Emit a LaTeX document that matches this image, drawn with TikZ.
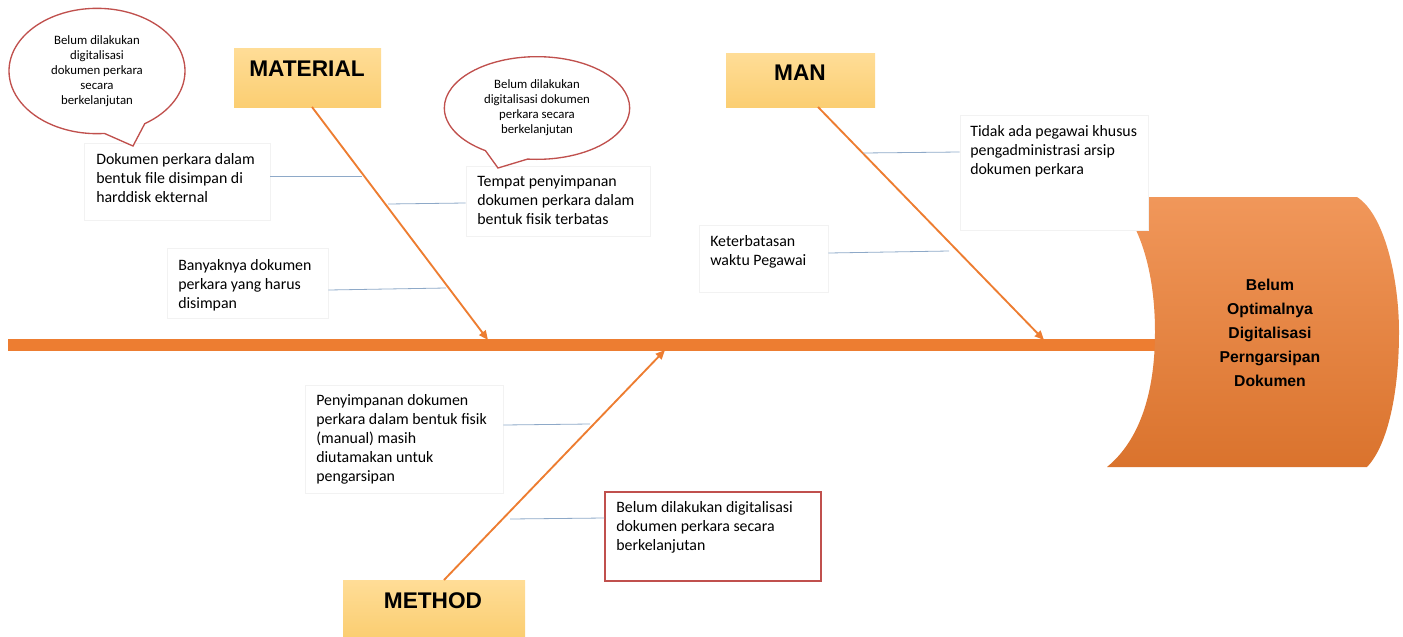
\documentclass[tikz,border=0pt]{standalone}
\usepackage{fontspec}
\setmainfont{Carlito}
\newfontfamily\headfont{Liberation Sans}
\usetikzlibrary{shapes.callouts,fit,arrows.meta,calc}
\definecolor{orng}{HTML}{ED7D31}
\definecolor{bubred}{HTML}{C0504D}
\definecolor{branch}{HTML}{8EA9C8}
\definecolor{boxedge}{HTML}{F2F2F2}
\definecolor{hdtop}{HTML}{FFDD97}
\definecolor{hdbot}{HTML}{FBCE72}
\begin{document}
\begin{tikzpicture}[x=0.75pt,y=-0.75pt,
  txt/.style={anchor=north west,inner sep=0pt,align=left,font=\fontsize{11.9}{14.25}\selectfont},
  tbox/.style={draw=boxedge,fill=white,inner sep=0pt,line width=0.6pt},
  redbox/.style={draw=bubred,fill=white,inner sep=0pt,line width=1pt},
  hdbox/.style={top color=hdtop,bottom color=hdbot,draw=none,inner sep=0pt},
  hdtxt/.style={anchor=center,inner sep=0pt,font=\headfont\fontsize{17}{18}\selectfont\bfseries},
  bubble/.style={ellipse callout,draw=bubred,fill=white,line width=1pt,inner sep=0pt,align=center,
    font=\fontsize{9.6}{11.2}\selectfont,callout pointer arc=28},
  cause/.style={draw=orng,line width=1.4pt,-{Triangle[length=7pt,width=6pt]}},
  spine/.style={draw=orng,line width=9pt},
  twig/.style={draw=branch,line width=0.6pt}]
\useasboundingbox (0,0) rectangle (1403,636);

% spine
\coordinate (tail) at (8,345);
\coordinate (spineend) at (1160,345);
\draw[spine] (tail) -- (spineend);

% head
\shade[top color=orng!80!white,bottom color=orng!92!black]
  (1113,197) -- (1357,197)
  .. controls (1385,215) and (1399,280) .. (1399,332)
  .. controls (1399,392) and (1388,445) .. (1367,467)
  -- (1107,467)
  .. controls (1140,440) and (1155,392) .. (1155,332)
  .. controls (1155,272) and (1140,222) .. (1113,197) -- cycle;
\node[anchor=center,inner sep=0pt,align=center,font=\headfont\fontsize{11.8}{18}\selectfont\bfseries] (head) at (1270,333)
  {Belum\\Optimalnya\\Digitalisasi\\Perngarsipan\\Dokumen};

% category boxes
\node[hdbox,fit={(234,48)(381,107)}] (matbox) {};
\node[hdtxt] (mattxt) at (307,69) {MATERIAL};
\node[hdbox,fit={(726,53)(875,107)}] (manbox) {};
\node[hdtxt] (mantxt) at (800,73) {MAN};
\node[hdbox,fit={(343,580)(525,636)}] (metbox) {};
\node[hdtxt] (mettxt) at (433,601) {METHOD};

% cause arrows
\coordinate (matend) at (488,340);
\coordinate (manend) at (1044,340);
\coordinate (metend) at (665,350);
\coordinate (matstart) at (312,107);
\coordinate (manstart) at (818,107);
\coordinate (metstart) at (444,580);

% text boxes
\node[tbox,fit={(84,143)(270,220)}] (b1) {};
\node[txt] (t1) at (96,153) {Dokumen perkara dalam\\bentuk file disimpan di\\harddisk ekternal};
\node[tbox,fit={(466,166)(650,236)}] (b2) {};
\node[txt] (t2) at (477,175) {Tempat penyimpanan\\dokumen perkara dalam\\bentuk fisik terbatas};
\node[tbox,fit={(167,248)(328,318)}] (b3) {};
\node[txt] (t3) at (178,259) {Banyaknya dokumen\\perkara yang harus\\disimpan};
\node[tbox,fit={(960,115)(1148,230)}] (b4) {};
\node[txt] (t4) at (970,125) {Tidak ada pegawai khusus\\pengadministrasi arsip\\dokumen perkara};
\node[tbox,fit={(699,225)(828,292)}] (b5) {};
\node[txt] (t5) at (710,235) {Keterbatasan\\waktu Pegawai};
\node[tbox,fit={(305,385)(503,493)}] (b6) {};
\node[txt] (t6) at (316,394) {Penyimpanan dokumen\\perkara dalam bentuk fisik\\(manual) masih\\diutamakan untuk\\pengarsipan};
\node[redbox,fit={(605,492)(821,581)}] (b7) {};
\node[txt] (t7) at (616,501) {Belum dilakukan digitalisasi\\dokumen perkara secara\\berkelanjutan};

\draw[cause] (matstart) -- (matend);
\draw[cause] (manstart) -- (manend);
\draw[cause] (metstart) -- (metend);

% twigs
\coordinate (w1) at (362,176);
\coordinate (w2) at (388,204);
\coordinate (w3) at (446,288);
\coordinate (w4) at (863,153);
\coordinate (w5) at (949,251);
\coordinate (w6) at (590,424);
\coordinate (w7) at (510,519);
\draw[twig] (b1.east |- w1) -- (w1);
\draw[twig] (w2) -- (b2.west |- 0,203);
\draw[twig] (b3.east |- 0,290) -- (w3);
\draw[twig] (w4) -- (b4.west |- 0,152);
\draw[twig] (b5.east |- 0,253) -- (w5);
\draw[twig] (b6.east |- 0,425) -- (w6);
\draw[twig] (w7) -- (b7.west |- 0,518);

% bubbles
\coordinate (p1) at (133,146);
\node[bubble,minimum width=132pt,minimum height=94pt,callout absolute pointer={(p1)}] (bub1) at (97,71)
  {Belum dilakukan\\digitalisasi\\dokumen perkara\\secara\\berkelanjutan};
\coordinate (p2) at (498,168);
\node[bubble,minimum width=139pt,minimum height=77pt,callout absolute pointer={(p2)}] (bub2) at (537,108)
  {Belum dilakukan\\digitalisasi dokumen\\perkara secara\\berkelanjutan};
\end{tikzpicture}
\end{document}
